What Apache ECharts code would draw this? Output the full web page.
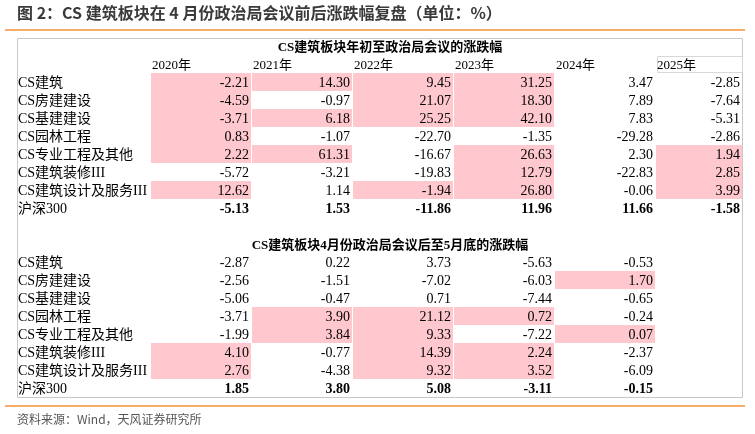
<!DOCTYPE html><html><head><meta charset="utf-8"><script src="https://cdn.jsdelivr.net/npm/echarts@6/dist/echarts.min.js"></script>
<style>html,body{margin:0;padding:0;background:#fff}#c{width:755px;height:434px}</style></head><body><div id="c"></div><script>
const years=['2020年','2021年','2022年','2023年','2024年','2025年'];
const rowLabels=['CS建筑','CS房建建设','CS基建建设','CS园林工程','CS专业工程及其他','CS建筑装修III','CS建筑设计及服务III','沪深300'];
const upper=[
[-2.21,14.30,9.45,31.25,3.47,-2.85],
[-4.59,-0.97,21.07,18.30,7.89,-7.64],
[-3.71,6.18,25.25,42.10,7.83,-5.31],
[0.83,-1.07,-22.70,-1.35,-29.28,-2.86],
[2.22,61.31,-16.67,26.63,2.30,1.94],
[-5.72,-3.21,-19.83,12.79,-22.83,2.85],
[12.62,1.14,-1.94,26.80,-0.06,3.99],
[-5.13,1.53,-11.86,11.96,11.66,-1.58]];
const lower=[
[-2.87,0.22,3.73,-5.63,-0.53],
[-2.56,-1.51,-7.02,-6.03,1.70],
[-5.06,-0.47,0.71,-7.44,-0.65],
[-3.71,3.90,21.12,0.72,-0.24],
[-1.99,3.84,9.33,-7.22,0.07],
[4.10,-0.77,14.39,2.24,-2.37],
[2.76,-4.38,9.32,3.52,-6.09],
[1.85,3.80,5.08,-3.11,-0.15]];
const upperTitle='CS建筑板块年初至政治局会议的涨跌幅';
const lowerTitle='CS建筑板块4月份政治局会议后至5月底的涨跌幅';
const SERIF='"Liberation Serif","Times New Roman","Noto Sans CJK SC",serif';
const cells=[];
function addTable(tbl,r0){
  const n=tbl.length, bench=tbl[n-1];
  tbl.forEach((row,i)=>row.forEach((v,j)=>{
    cells.push([j,r0+i,v,(i<n-1&&v>bench[j])?1:0,i===n-1?1:0]);
  }));
}
addTable(upper,0);addTable(lower,10);
const labels=[];
rowLabels.forEach((l,i)=>{labels.push([-1.307,i+0.5,l,i===7?1:0]);labels.push([-1.307,i+10.5,l,i===7?1:0]);});
const heads=years.map((y,j)=>[j,-0.42,y]);
const chart=echarts.init(document.getElementById('c'));
chart.setOption({
  animation:false,
  grid:{left:150,right:13,top:73,height:324},
  xAxis:{type:'value',min:0,max:592/101,show:false},
  yAxis:{type:'value',min:0,max:18,inverse:true,show:false},
  graphic:[
    {type:'text',left:17,top:5,style:{text:'图 2：CS 建筑板块在 4 月份政治局会议前后涨跌幅复盘（单位：%）',font:'bold 16px "Noto Sans CJK SC",sans-serif',fill:'#3a3a3a'}},
    {type:'line',shape:{x1:5,y1:30,x2:745,y2:30},style:{stroke:'#F0923A',lineWidth:1.5}},
    {type:'line',shape:{x1:5,y1:406,x2:745,y2:406},style:{stroke:'#F0923A',lineWidth:1.5}},
    {type:'text',left:17,top:413,style:{text:'资料来源：Wind，天风证券研究所',font:'12px "Noto Sans CJK SC",sans-serif',fill:'#555'}},
    {type:'rect',shape:{x:17.5,y:38.5,width:725,height:359},style:{fill:null,stroke:'#c8c8c8',lineWidth:1}},
    {type:'rect',shape:{x:657.5,y:56.5,width:85,height:16},style:{fill:null,stroke:'#d8d8d8',lineWidth:1}},
    {type:'text',x:390,y:48,style:{text:upperTitle,font:'bold 13px '+SERIF,fill:'#000',align:'center',verticalAlign:'middle'}},
    {type:'text',x:390,y:246,style:{text:lowerTitle,font:'bold 13px '+SERIF,fill:'#000',align:'center',verticalAlign:'middle'}}
  ],
  series:[
    {type:'custom',data:cells,clip:false,renderItem:(p,api)=>{
      const j=api.value(0),r=api.value(1),v=api.value(2),hl=api.value(3),b=api.value(4);
      const a=api.coord([j,r]),c=api.coord([j+1,r+1]);
      const w=Math.min(c[0],742)-a[0];
      const ch=[];
      if(hl)ch.push({type:'rect',shape:{x:a[0]+1,y:a[1],width:w-1,height:c[1]-a[1]},style:{fill:'#FFC7CE'}});
      ch.push({type:'text',style:{x:a[0]+w-2,y:(a[1]+c[1])/2+1,text:v.toFixed(2),align:'right',verticalAlign:'middle',font:(b?'bold ':'')+'14px '+SERIF,fill:'#000'}});
      return {type:'group',children:ch};
    }},
    {type:'custom',data:labels,clip:false,renderItem:(p,api)=>{
      const a=api.coord([api.value(0),api.value(1)]);
      return {type:'text',style:{x:a[0],y:a[1]+1,text:rowLabels[Math.floor(api.value(1))%10]||'',align:'left',verticalAlign:'middle',font:'14px '+SERIF,fill:'#000'}};
    }},
    {type:'custom',data:heads,clip:false,renderItem:(p,api)=>{
      const j=api.value(0);const a=api.coord([j,api.value(1)]);
      return {type:'text',style:{x:a[0]+2,y:a[1],text:years[j],align:'left',verticalAlign:'middle',font:'13px '+SERIF,fill:'#000'}};
    }}
  ]
});
</script></body></html>
